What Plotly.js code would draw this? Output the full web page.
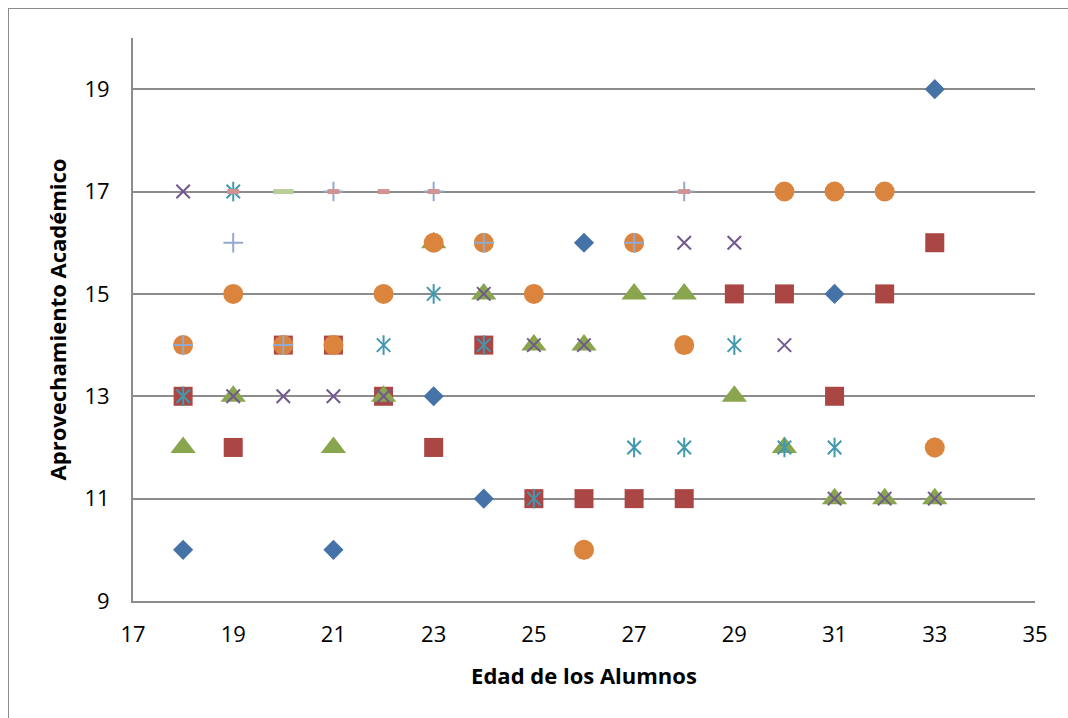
<!DOCTYPE html>
<html>
<head>
<meta charset="utf-8">
<script src="https://cdn.plot.ly/plotly-3.0.1.min.js"></script>
<style>
  html, body { margin: 0; padding: 0; background: #ffffff; overflow: hidden; }
  #chart { position: absolute; left: 0; top: 0; width: 1068px; height: 718px; }
  #frame { position: absolute; left: 8px; top: 8px; width: 1100px; height: 800px;
           border: 1.5px solid #8a8a8a; pointer-events: none; }
</style>
</head>
<body>
<div id="chart"></div>
<div id="frame"></div>
<script>
// Data (age vs. academic score), one array pair per series
const diamondX  = [18, 21, 23, 24, 26, 31, 33];
const diamondY  = [10, 10, 13, 11, 16, 15, 19];

const squareX   = [18, 19, 20, 21, 22, 23, 24, 25, 26, 27, 28, 29, 30, 31, 32, 33];
const squareY   = [13, 12, 14, 14, 13, 12, 14, 11, 11, 11, 11, 15, 15, 13, 15, 16];

const triangleX = [18, 19, 21, 22, 23, 24, 25, 26, 27, 28, 29, 30, 31, 32, 33];
const triangleY = [12, 13, 12, 13, 16, 15, 14, 14, 15, 15, 13, 12, 11, 11, 11];

const crossX    = [18, 19, 20, 21, 22, 23, 24, 25, 26, 28, 29, 30, 31, 32, 33];
const crossY    = [17, 13, 13, 13, 13, 16, 15, 14, 14, 16, 16, 14, 11, 11, 11];

const starX     = [18, 19, 20, 22, 23, 24, 25, 26, 27, 28, 29, 30, 31, 33];
const starY     = [13, 17, 14, 14, 15, 14, 11, 10, 12, 12, 14, 12, 12, 12];

const circleX   = [18, 19, 20, 21, 22, 23, 24, 25, 26, 27, 28, 30, 31, 32, 33];
const circleY   = [14, 15, 14, 14, 15, 16, 16, 15, 10, 16, 14, 17, 17, 17, 12];

const plusX     = [18, 19, 20, 21, 23, 24, 27, 28];
const plusY     = [14, 16, 14, 17, 17, 16, 16, 17];

const shortDashX = [19, 21, 22, 23, 28];
const shortDashY = [17, 17, 17, 17, 17];

const longDashX = [20];
const longDashY = [17];

const xTicks = [17, 19, 21, 23, 25, 27, 29, 31, 33, 35];
const yTicks = [9, 11, 13, 15, 17, 19];

const FONT = '"Open Sans", Lato, "DejaVu Sans", sans-serif';

function filled(x, y, symbol, size, color) {
  return { type: 'scatter', mode: 'markers', x: x, y: y, hoverinfo: 'x+y',
    marker: { symbol: symbol, size: size, color: color, line: { width: 0 } } };
}
function open(x, y, symbol, size, color, w) {
  return { type: 'scatter', mode: 'markers', x: x, y: y, hoverinfo: 'x+y',
    marker: { symbol: symbol, size: size, color: color, line: { width: w, color: color } } };
}

const traces = [
  filled(diamondX, diamondY, 'diamond', 15.5, '#4572A7'),
  filled(squareX, squareY, 'square', 19, '#AA4643'),
  filled(triangleX, triangleY, 'triangle-up', 22, '#89A54E'),
  open(crossX, crossY, 'x-thin-open', 13.5, '#71588F', 2),
  open(starX, starY, 'x-thin-open', 13.5, '#4198AF', 2),
  open(starX, starY, 'line-ns-open', 14, '#4198AF', 2),
  filled(circleX, circleY, 'circle', 20, '#DB843D'),
  open(plusX, plusY, 'cross-thin-open', 14, '#93A9CF', 2),
  open(shortDashX, shortDashY, 'line-ew-open', 8.5, '#D19392', 5),
  open(longDashX, longDashY, 'line-ew-open', 14.5, '#B9CD96', 5)
];

const layout = {
  width: 1068, height: 718,
  margin: { l: 133, r: 33, t: 38, b: 117 },
  paper_bgcolor: 'rgba(0,0,0,0)',
  plot_bgcolor: '#ffffff',
  showlegend: false,
  font: { family: FONT, size: 22, color: '#000000' },
  xaxis: {
    range: [17, 35], tickmode: 'array', tickvals: xTicks, ticktext: xTicks.map(String),
    showgrid: false, zeroline: false,
    showline: true, linecolor: '#8c8c8c', linewidth: 2,
    ticks: 'outside', ticklen: 13, tickcolor: 'rgba(0,0,0,0)',
    tickfont: { family: FONT, size: 22, color: '#000' },
    title: { text: 'Edad de los Alumnos', standoff: 21,
             font: { family: FONT, size: 22, color: '#000', weight: 'bold' } }
  },
  yaxis: {
    range: [9, 20], tickmode: 'array', tickvals: yTicks, ticktext: yTicks.map(String),
    showgrid: true, gridcolor: '#8c8c8c', gridwidth: 2, zeroline: false,
    showline: true, linecolor: '#8c8c8c', linewidth: 2,
    ticks: 'outside', ticklen: 17, tickcolor: 'rgba(0,0,0,0)',
    tickfont: { family: FONT, size: 22, color: '#000' },
    title: { text: 'Aprovechamiento Académico', standoff: 12,
             font: { family: FONT, size: 22, color: '#000', weight: 'bold' } }
  }
};

Plotly.newPlot('chart', traces, layout, { displayModeBar: false, staticPlot: true });
</script>
</body>
</html>
